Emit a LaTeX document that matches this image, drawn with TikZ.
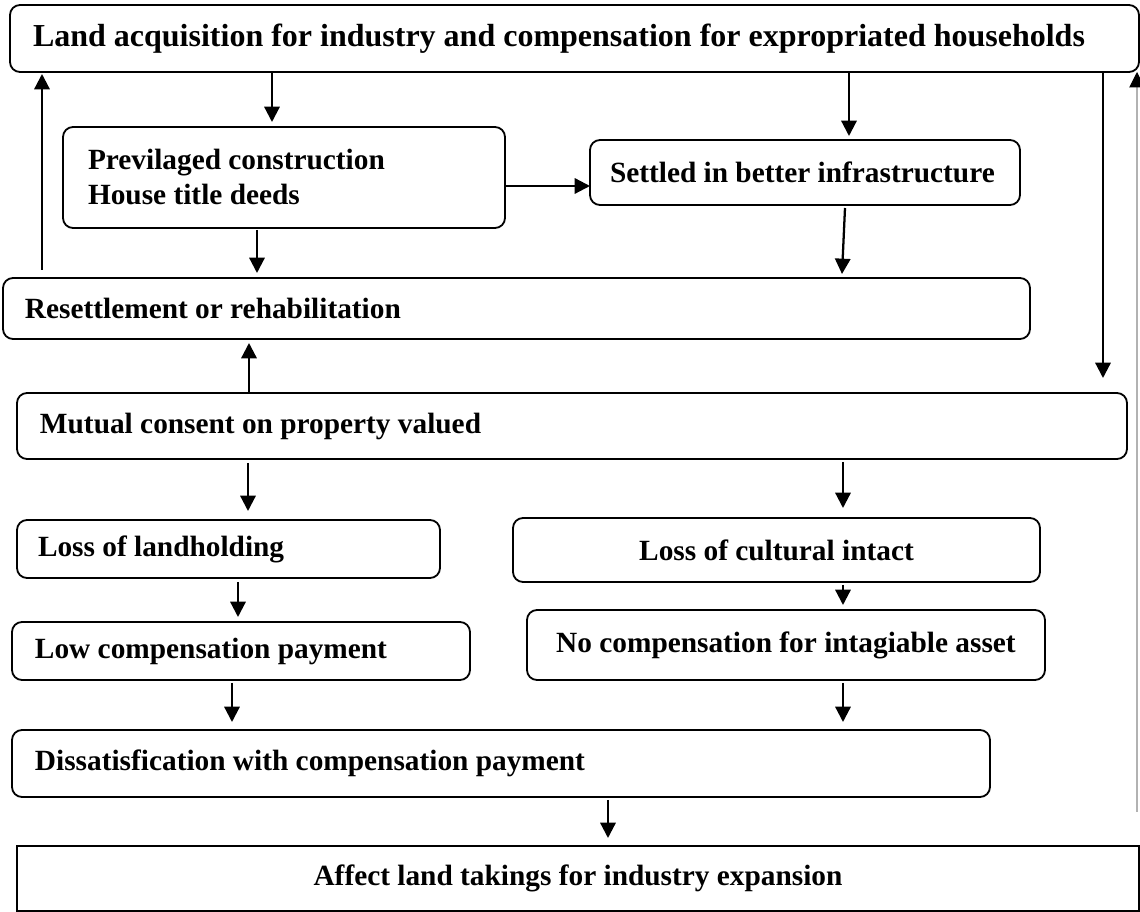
\documentclass[tikz,border=0pt]{standalone}
\usepackage{fontspec}
\setmainfont{Liberation Serif}
\usetikzlibrary{arrows.meta,calc}
% flow box: #1 extra style, #2 name, #3 left, #4 top, #5 right, #6 bottom, #7 text padding, #8 text
\newcommand\mkbox[8]{%
  \pgfmathsetmacro\bw{(#5-#3)*0.75}%
  \pgfmathsetmacro\bh{(#6-#4)*0.75}%
  \pgfmathsetmacro\bp{#7*0.75}%
  \pgfmathsetmacro\tw{\bw-2*\bp}%
  \node[box,#1,anchor=north west,minimum width=\bw pt,minimum height=\bh pt,
        inner xsep=\bp pt,text width=\tw pt] (#2) at (#3,#4) {#8};}
\begin{document}
\begin{tikzpicture}[x=0.75pt,y=-0.75pt,
  box/.style={draw,line width=1.35pt,rounded corners=7.5pt,inner ysep=0pt,outer sep=0pt,
              align=flush left,font=\bfseries\fontsize{22}{26.25}\selectfont},
  title/.style={font=\bfseries\fontsize{24}{28.8}\selectfont},
  mid/.style={align=flush center},
  plain/.style={rounded corners=0pt},
  arr/.style={line width=1.7pt,-{Triangle[length=11.5pt,width=11.5pt]}},
  grayarr/.style={line width=0.8pt,draw=black!30,-{Triangle[length=11.5pt,width=11.5pt,color=black]}},
]
\useasboundingbox (0,0) rectangle (1140,912);

\mkbox{title}{top}{10}{5}{1139}{72}{23}{Land acquisition for industry and compensation for expropriated households}
\mkbox{}{prev}{63}{127}{505}{228}{25}{Previlaged construction\\House title deeds}
\mkbox{}{settled}{590}{140}{1020}{205}{20}{Settled in better infrastructure}
\mkbox{}{resettle}{3}{278}{1030}{339}{22}{Resettlement or rehabilitation}
\mkbox{}{mutual}{17}{393}{1127}{459}{23}{Mutual consent on property valued}
\mkbox{}{landloss}{17}{520}{440}{578}{21}{Loss of landholding}
\mkbox{mid}{culture}{513}{518}{1040}{582}{10}{Loss of cultural intact}
\mkbox{}{lowpay}{12}{622}{470}{680}{23}{Low compensation payment}
\mkbox{mid}{nopay}{527}{610}{1045}{680}{10}{No compensation for intagiable asset}
\mkbox{}{dissat}{12}{730}{990}{797}{23}{Dissatisfication with compensation payment}
\mkbox{mid,plain}{affect}{17}{846}{1139}{911}{10}{Affect land takings for industry expansion}

% connectors
\draw[arr] (top.south -| 272,0) -- ($(prev.north -| 272,0)+(0,-5)$);
\draw[arr] (top.south -| 849,0) -- ($(settled.north -| 849,0)+(0,-4)$);
\draw[arr] (prev.east |- 0,186) -- (settled.west |- 0,186);
\draw[arr] ($(prev.south -| 257,0)+(0,2)$) -- ($(resettle.north -| 257,0)+(0,-5)$);
\draw[arr] ($(settled.south -| 845,0)+(0,3)$) -- ($(resettle.north -| 842,0)+(0,-4)$);
\draw[arr] ($(resettle.north -| 42,0)+(0,-8)$) -- ($(top.south -| 42,0)+(0,2)$);
\draw[arr] (mutual.north -| 249,0) -- ($(resettle.south -| 249,0)+(0,4)$);
\draw[arr] (top.south -| 1103,0) -- ($(mutual.north -| 1103,0)+(0,-15)$);
\draw[arr] ($(mutual.south -| 248,0)+(0,4)$) -- ($(landloss.north -| 248,0)+(0,-9)$);
\draw[arr] ($(mutual.south -| 843,0)+(0,3)$) -- ($(culture.north -| 843,0)+(0,-10)$);
\draw[arr] ($(landloss.south -| 238,0)+(0,4)$) -- ($(lowpay.north -| 238,0)+(0,-5)$);
\draw[arr] ($(culture.south -| 843,0)+(0,3)$) -- ($(nopay.north -| 843,0)+(0,-5)$);
\draw[arr] ($(lowpay.south -| 232,0)+(0,3)$) -- ($(dissat.north -| 232,0)+(0,-8)$);
\draw[arr] ($(nopay.south -| 843,0)+(0,3)$) -- ($(dissat.north -| 843,0)+(0,-8)$);
\draw[arr] ($(dissat.south -| 608,0)+(0,3)$) -- ($(affect.north -| 608,0)+(0,-8)$);
\coordinate (grayfoot) at (1137,812);
\draw[grayarr] (grayfoot) -- (top.south -| 1137,0);
\end{tikzpicture}
\end{document}
